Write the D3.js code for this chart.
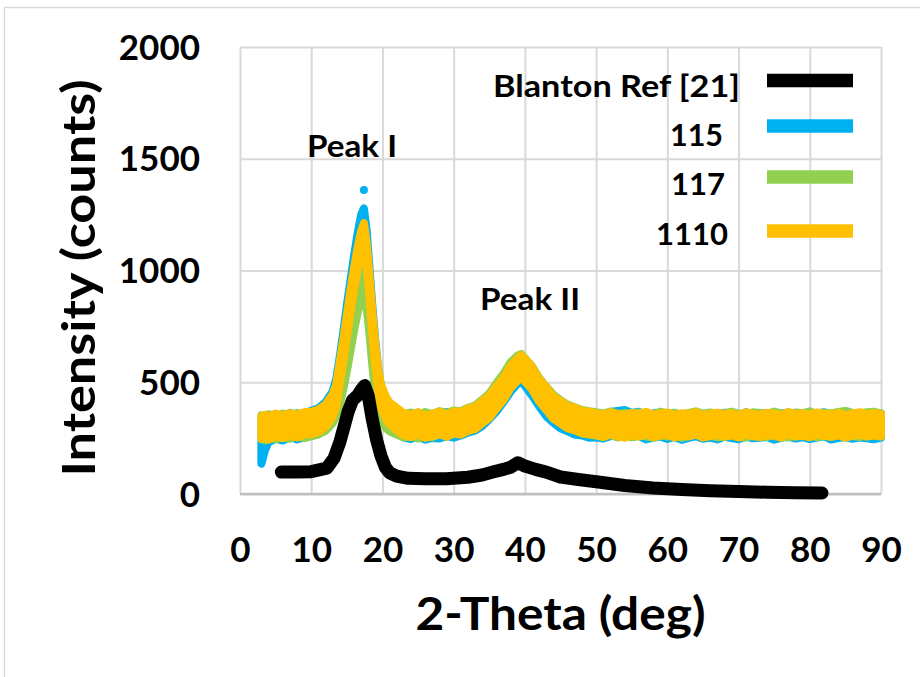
<!DOCTYPE html>
<html>
<head>
<meta charset="utf-8">
<script src="https://cdn.jsdelivr.net/npm/d3@7"></script>
<style>
	body { margin: 0; background: #fff; }
	svg text { font-family: Lato, "Open Sans", sans-serif; font-weight: bold; fill: #000; }
</style>
</head>
<body>
<div class="xrdChart"></div>
<script>
var width = 920,
height = 677,
xLeft = 240,
xRight = 881,
yTop = 47,
yBottom = 494;

/*
========== data ==========
*/
var xTicks = [0, 10, 20, 30, 40, 50, 60, 70, 80, 90];
var yTicks = [0, 500, 1000, 1500, 2000];

var seriesNames = ["Blanton Ref [21]", "115", "117", "1110"];
var seriesColors = ["#000000", "#00b0f0", "#92d050", "#ffc000"];

// Blanton reference pattern
var blantonTheta = [5.8, 8, 10, 12.2, 13.2, 14, 14.6, 15.2, 15.8, 16.5, 17, 17.5, 18, 18.6, 19.2, 19.8, 20.4, 21, 22, 23.6, 26, 29, 32, 34, 35.5, 37, 38, 39, 40, 41.5, 43, 45, 47.5, 50.3, 54, 58, 62, 66, 70, 74, 78, 81.7];
var blantonValue = [98, 98, 100, 116, 160, 230, 300, 370, 420, 440, 465, 485, 440, 330, 240, 170, 120, 95, 80, 70, 68, 68, 75, 85, 98, 110, 120, 140, 125, 110, 98, 76, 65, 54, 38, 27, 20, 15, 11, 8, 6, 4];

// sample scans (center of the noisy band)
var theta = [3, 3.5, 4, 5, 6, 7, 8, 9, 10, 11, 12, 13, 13.5, 14, 14.5, 15, 15.5, 16, 16.5, 17, 17.4, 17.8, 18.2, 18.6, 19, 19.4, 19.8, 20.5, 21, 22, 23, 24, 25, 26, 27, 28, 29, 30, 31, 32, 33, 34, 35, 36, 37, 38, 39, 39.5, 40, 41, 42, 43, 44, 45, 46, 47, 48, 49, 50, 51, 52, 53, 54, 55, 56, 57, 58, 59, 60, 61, 62, 63, 64, 65, 66, 67, 68, 69, 70, 71, 72, 73, 74, 75, 76, 77, 78, 79, 80, 81, 82, 83, 84, 85, 86, 87, 88, 89, 90];

var s115 = [190, 250, 284, 302, 293, 309, 298, 306, 318, 330, 356,
	405, 460, 560, 670, 790, 900, 1010, 1110, 1195, 1224, 1120, 950, 780, 630, 510, 430, 370, 345,
	326, 306, 300, 311, 297, 305, 302, 313, 306, 316, 328, 337, 358, 388, 423, 465, 512, 548, 556,
	538, 494, 446, 402, 372, 348, 334, 320, 316, 306,
	308, 302, 313, 318, 322, 309, 314, 298, 306, 311, 300, 309, 296, 305, 312, 301, 307, 298, 310, 304, 299, 312, 303, 306, 309, 297, 305, 311, 302, 308, 300, 306, 312, 298, 304, 309, 301, 307, 303, 299, 306];

var s117 = [300, 292, 305, 296, 308, 299, 311, 302, 310, 318, 334,
	368, 400, 450, 520, 600, 690, 780, 860, 920, 950, 880, 760, 620, 500, 420, 380, 345, 332,
	318, 304, 313, 300, 315, 306, 319, 310, 322, 318, 334, 344, 370, 398, 444, 486, 538, 568, 574,
	556, 520, 468, 428, 392, 368, 348, 336, 324, 318,
	314, 308, 317, 305, 311, 306, 313, 310, 304, 316, 309, 312, 303, 311, 318, 307, 313, 305, 310, 316, 308, 304, 314, 311, 307, 317, 309, 305, 313, 310, 318, 306, 312, 309, 315, 320, 311, 307, 314, 316, 309];

var s1110 = [296, 304, 293, 310, 300, 312, 303, 316, 318, 328, 350,
	395, 440, 540, 640, 750, 860, 960, 1050, 1125, 1162, 1070, 920, 760, 620, 510, 440, 385, 360,
	335, 312, 304, 316, 301, 309, 318, 306, 320, 316, 332, 340, 366, 390, 432, 470, 524, 558, 571,
	554, 520, 464, 428, 386, 366, 344, 336, 322, 318,
	312, 305, 316, 309, 302, 313, 307, 318, 304, 310, 315, 303, 311, 308, 317, 302, 309, 314, 306, 312, 303, 316, 308, 305, 313, 310, 302, 317, 307, 311, 304, 315, 309, 306, 313, 302, 310, 316, 307, 312, 308];

// half width of the scatter (counts) for each scan
var spread = [54, 52, 50];

// single stray points
var outlierTheta = [17.4, 3.1];
var outlierValue = [1360, 165];

var peakLabels = ["Peak I", "Peak II"];

/*
========== canvas ==========
*/
var canvas = d3.select('div.xrdChart')
				.append('svg')
				.attr('width', width)
				.attr('height', height);

canvas.append('rect')
	.attr('x', 4.5)
	.attr('y', 7.5)
	.attr('width', 940)
	.attr('height', 700)
	.attr('fill', 'none')
	.attr('stroke', '#d9d9d9')
	.attr('stroke-width', 1.5);

var xScale = d3.scaleLinear()
		.domain([0, 90])
		.range([xLeft, xRight]);

var yScale = d3.scaleLinear()
		.domain([0, 2000])
		.range([yBottom, yTop]);

/*
========== grid + axes ==========
*/
canvas.append("g")
	.attr("class", "grid")
	.attr("transform", "translate(0," + yBottom + ")")
	.call(d3.axisBottom(xScale).tickValues(xTicks).tickSize(-(yBottom - yTop)).tickFormat(""))
	.call(function(g){
		g.select(".domain").remove();
		g.selectAll(".tick line").attr("stroke", "#d9d9d9").attr("stroke-width", 2);
	});

canvas.append("g")
	.attr("class", "grid")
	.attr("transform", "translate(" + xLeft + ",0)")
	.call(d3.axisLeft(yScale).tickValues(yTicks).tickSize(-(xRight - xLeft)).tickFormat(""))
	.call(function(g){
		g.select(".domain").remove();
		g.selectAll(".tick line").attr("stroke", "#d9d9d9").attr("stroke-width", 2);
	});

canvas.append("line")
	.attr("x1", xLeft).attr("x2", xRight)
	.attr("y1", yBottom).attr("y2", yBottom)
	.attr("stroke", "#bfbfbf")
	.attr("stroke-width", 2.5);

canvas.append("g")
	.attr("class", "axis")
	.attr("transform", "translate(0," + yBottom + ")")
	.call(d3.axisBottom(xScale).tickValues(xTicks).tickSize(0).tickPadding(0).tickFormat(d3.format("d")))
	.call(function(g){
		g.select(".domain").remove();
		g.selectAll(".tick text")
			.attr("y", 68)
			.attr("dy", 0)
			.style("font-size", "35px");
	});

canvas.append("g")
	.attr("class", "axis")
	.attr("transform", "translate(" + xLeft + ",0)")
	.call(d3.axisLeft(yScale).tickValues(yTicks).tickSize(0).tickPadding(0).tickFormat(d3.format("d")))
	.call(function(g){
		g.select(".domain").remove();
		g.selectAll(".tick text")
			.attr("x", -40)
			.attr("dy", 12)
			.style("font-size", "35px");
	});

canvas.append("text")
	.attr("x", (xLeft + xRight) / 2)
	.attr("y", 630)
	.attr("text-anchor", "middle")
	.attr("textLength", 290)
	.attr("lengthAdjust", "spacingAndGlyphs")
	.style("font-size", "46px")
	.text("2-Theta (deg)");

canvas.append("text")
	.attr("transform", "translate(95," + 278 + ") rotate(-90)")
	.attr("text-anchor", "middle")
	.attr("textLength", 397)
	.attr("lengthAdjust", "spacingAndGlyphs")
	.style("font-size", "46px")
	.text("Intensity (counts)");

/*
========== scans ==========
*/
var scans = [s115, s117, s1110];

scans.forEach(function(vals, k){
	var pts = theta.map(function(t, i){ return {t: t, v: vals[i]}; });
	var band = d3.area()
			.x(function(d){ return xScale(d.t); })
			.y0(function(d){ return yScale(d.v - spread[k]); })
			.y1(function(d){ return yScale(d.v + spread[k]); });

	canvas.append('path')
		.datum(pts)
		.attr('class', 'scan')
		.attr('d', band)
		.attr('fill', seriesColors[k + 1])
		.attr('stroke', seriesColors[k + 1])
		.attr('stroke-width', 8)
		.attr('stroke-linejoin', 'round');
});

canvas.selectAll('circle.outlier')
	.data(outlierTheta)
	.enter()
	.append('circle')
	.attr('class', 'outlier')
	.attr('cx', function(d){ return xScale(d); })
	.attr('cy', function(d, i){ return yScale(outlierValue[i]); })
	.attr('r', 4)
	.attr('fill', seriesColors[1]);

var line = d3.line()
		.x(function(d, i){ return xScale(blantonTheta[i]); })
		.y(function(d){ return yScale(d); });

canvas.append('path')
	.datum(blantonValue)
	.attr('class', 'blanton')
	.attr('d', line)
	.attr('fill', 'none')
	.attr('stroke', seriesColors[0])
	.attr('stroke-width', 13)
	.attr('stroke-linejoin', 'round')
	.attr('stroke-linecap', 'round');

/*
========== labels + legend ==========
*/
canvas.append("text").attr("x", 307).attr("y", 157)
	.attr("textLength", 90).attr("lengthAdjust", "spacingAndGlyphs")
	.style("font-size", "31px").text(peakLabels[0]);
canvas.append("text").attr("x", 480).attr("y", 310)
	.attr("textLength", 100).attr("lengthAdjust", "spacingAndGlyphs")
	.style("font-size", "31px").text(peakLabels[1]);

var legendTextX = [740, 723, 725, 728];
var legendTextY = [97, 146, 195, 245];
var legendLineY = [80.5, 126, 177, 231];
var legendTextW = [247, 53, 54, 72];

var legend = canvas.append('g').attr('class', 'legend');

seriesNames.forEach(function(name, i){
	legend.append('line')
		.attr('x1', 767).attr('x2', 853)
		.attr('y1', legendLineY[i]).attr('y2', legendLineY[i])
		.attr('stroke', seriesColors[i])
		.attr('stroke-width', 13.5);

	legend.append('text')
		.attr('x', legendTextX[i])
		.attr('y', legendTextY[i])
		.attr('text-anchor', 'end')
		.attr('textLength', legendTextW[i])
		.attr('lengthAdjust', 'spacingAndGlyphs')
		.style('font-size', '31px')
		.text(name);
});
</script>
</body>
</html>
